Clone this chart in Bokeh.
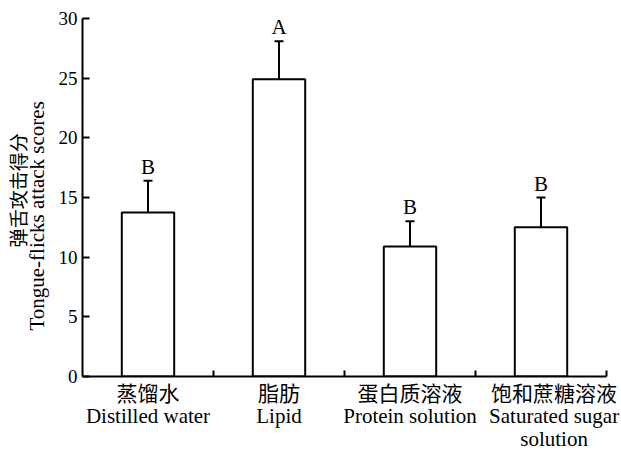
from bokeh.plotting import figure
from bokeh.models import FixedTicker, Range1d, Whisker, TeeHead, ColumnDataSource, LinearAxis
from bokeh.core.properties import value
from bokeh.embed import file_html
from bokeh.resources import INLINE

categories = ["蒸馏水\nDistilled water", "脂肪\nLipid", "蛋白质溶液\nProtein solution",
              "饱和蔗糖溶液\nSaturated sugar\nsolution"]
means = [13.75, 24.9, 10.9, 12.5]
err_upper = [16.4, 28.1, 13.0, 15.0]
err_lower = [11.1, 21.75, 8.8, 9.9]
letters = ["B", "A", "B", "B"]
y_ticks = [0, 5, 10, 15, 20, 25, 30]
y_label_cn = "弹舌攻击得分"
y_label_en = "Tongue-flicks attack scores"

FONT = "'Liberation Serif', 'Times New Roman', 'Noto Sans CJK SC', serif"
NB = "\u00a0"

centers = [i + 0.5 for i in range(len(categories))]
bounds = [i + 1 for i in range(len(categories))]
label_x = list(centers)
label_x[-1] += 0.1  # last label nudged right as in the original

src = ColumnDataSource(dict(x=centers, top=means, up=err_upper, lo=err_lower, lab=letters))

p = figure(width=621, height=454, output_backend="svg", toolbar_location=None,
           x_range=Range1d(0, len(categories)), y_range=Range1d(0, 30),
           min_border_left=82, min_border_right=15, min_border_top=18, min_border_bottom=76)
p.outline_line_color = None
p.xgrid.visible = False
p.ygrid.visible = False
p.background_fill_color = "white"

p.vbar(x="x", top="top", width=0.4, source=src, fill_color="white",
       line_color="black", line_width=2)

w = Whisker(base="x", upper="up", lower="lo", source=src, line_width=2, line_color="black",
            upper_head=TeeHead(size=9, line_width=2, line_color="black"),
            lower_head=TeeHead(size=9, line_width=2, line_color="black"))
p.add_layout(w)

p.text(x="x", y="up", text="lab", source=src, text_align="center", text_baseline="alphabetic",
       y_offset=-14, text_font=value(FONT), text_font_size="21px", text_color="black")

# x axis
p.xaxis.ticker = FixedTicker(ticks=label_x, minor_ticks=bounds)
p.xaxis.major_label_overrides = {c: lab for c, lab in zip(label_x, categories)}
p.xaxis.major_tick_in = 0
p.xaxis.major_tick_out = 0
p.xaxis.minor_tick_in = 6
p.xaxis.minor_tick_out = 0
p.xaxis.minor_tick_line_width = 2
p.xaxis.axis_line_width = 2
p.xaxis.major_label_standoff = 5
p.xaxis.major_label_text_font = FONT
p.xaxis.major_label_text_font_size = "21px"
p.xaxis.major_label_text_color = "black"
p.xaxis.major_label_text_line_height = 0.95

# y axis
p.yaxis.ticker = FixedTicker(ticks=y_ticks)
p.yaxis.major_tick_in = 7
p.yaxis.major_tick_out = 0
p.yaxis.major_tick_line_width = 2
p.yaxis.minor_tick_line_color = None
p.yaxis.axis_line_width = 2
p.yaxis.major_label_standoff = 5
p.yaxis.major_label_text_font = FONT
p.yaxis.major_label_text_font_size = "19px"
p.yaxis.major_label_text_color = "black"
p.yaxis.axis_label = y_label_en + NB * 7
p.yaxis.axis_label_text_font = FONT
p.yaxis.axis_label_text_font_style = "normal"
p.yaxis.axis_label_text_font_size = "21px"
p.yaxis.axis_label_text_color = "black"
p.yaxis.axis_label_standoff = 7
p.yaxis.axis_label_text_line_height = 0.8

cn_axis = LinearAxis(ticker=FixedTicker(ticks=[]), axis_line_color=None,
                     major_tick_line_color=None, minor_tick_line_color=None,
                     axis_label=NB * 3 + y_label_cn, axis_label_text_font=FONT,
                     axis_label_text_font_style="normal", axis_label_text_font_size="19px",
                     axis_label_text_color="black", axis_label_standoff=-8,
                     axis_label_text_line_height=0.7)
p.add_layout(cn_axis, "left")

open("out.html", "w").write(file_html(p, INLINE))
